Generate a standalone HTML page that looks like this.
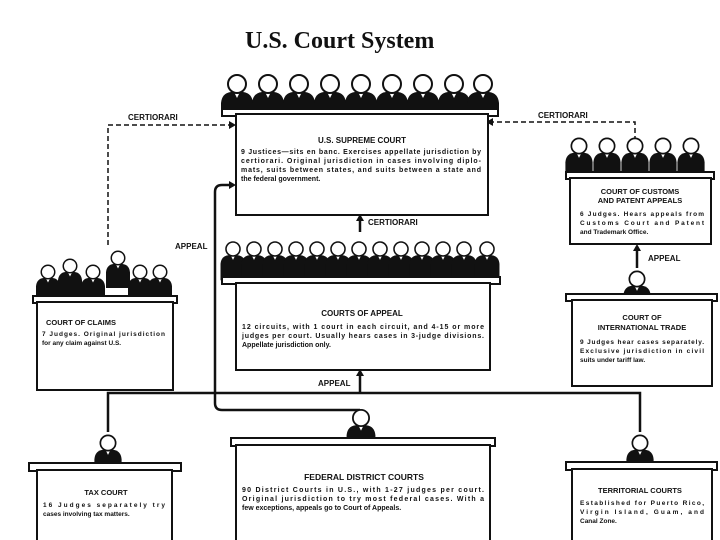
<!DOCTYPE html>
<html><head><meta charset="utf-8"><style>
html,body{margin:0;padding:0;background:#fff;}
svg{display:block}
text{font-family:"Liberation Sans",sans-serif;font-weight:bold;fill:#111}
</style></head><body>
<svg width="720" height="540" viewBox="0 0 720 540" xmlns="http://www.w3.org/2000/svg">
<defs>
<g id="s">
<path d="M-16,29 L-16,19 Q-15,9 -6,8 L6,8 Q15,9 16,19 L16,29 Z" fill="#111"/>
<path d="M-3,8 L0,14 L3,8 Z" fill="#fff"/>
<circle cx="0" cy="0" r="9" fill="#fff" stroke="#111" stroke-width="2"/>
</g>
<g id="j">
<path d="M-16,40 L-16,19 Q-15,9 -6,8 L6,8 Q15,9 16,19 L16,40 Z" fill="#111"/>
<path d="M-3,8 L0,14 L3,8 Z" fill="#fff"/>
<circle cx="0" cy="0" r="9" fill="#fff" stroke="#111" stroke-width="2"/>
</g>
</defs>
<text x="245" y="48" style="font-family:'Liberation Serif',serif;font-size:24px">U.S. Court System</text>

<g fill="none" stroke="#111" stroke-width="1.5" stroke-dasharray="5,3">
<path d="M108,245 L108,125 L233,125"/>
<path d="M489,122 L635,122 L635,138"/>
</g>
<g fill="none" stroke="#111" stroke-width="2.5">
<path d="M360,232 L360,218"/>
<path d="M108,432 L108,393 L640,393 L640,432"/>
<path d="M360,393 L360,373"/>
<path d="M360,410 L222,410 Q215,410 215,403 L215,192 Q215,185 222,185 L233,185"/>
<path d="M637,268 L637,248"/>
</g>
<g fill="#111">
<path d="M360,214 l-4,7 h8z"/><path d="M360,369 l-4,7 h8z"/><path d="M637,244 l-4,7 h8z"/>
<path d="M236,185 l-7,-4 v8z"/><path d="M236,125 l-7,-4 v8z"/><path d="M486,122 l7,-4 v8z"/>
</g>
<text x="128" y="120" font-size="8">CERTIORARI</text>
<text x="538" y="118" font-size="8">CERTIORARI</text>
<text x="368" y="225" font-size="8">CERTIORARI</text>
<text x="175" y="249" font-size="8">APPEAL</text>
<text x="318" y="386" font-size="8">APPEAL</text>
<text x="648" y="261" font-size="8">APPEAL</text>

<!-- Supreme -->
<g>
<use href="#s" x="237" y="84"/><use href="#s" x="268" y="84"/><use href="#s" x="299" y="84"/><use href="#s" x="330" y="84"/><use href="#s" x="361" y="84"/><use href="#s" x="392" y="84"/><use href="#s" x="423" y="84"/><use href="#s" x="454" y="84"/><use href="#s" x="483" y="84"/>
</g>
<rect x="222" y="109" width="276" height="7" fill="#fff" stroke="#111" stroke-width="2"/>
<rect x="236" y="114" width="252" height="101" fill="#fff" stroke="#111" stroke-width="2"/>
<text x="362" y="143" font-size="8" text-anchor="middle">U.S. SUPREME COURT</text>
<g font-size="7" lengthAdjust="spacing"><text x="241" y="154" textLength="240">9 Justices—sits en banc. Exercises appellate jurisdiction by</text><text x="241" y="163" textLength="240">certiorari. Original jurisdiction in cases involving diplo-</text><text x="241" y="172" textLength="240">mats, suits between states, and suits between a state and</text><text x="241" y="181">the federal government.</text></g>

<!-- Appeals -->
<g>
<g transform="translate(233,249) scale(.78)"><use href="#j"/></g><g transform="translate(254,249) scale(.78)"><use href="#j"/></g><g transform="translate(275,249) scale(.78)"><use href="#j"/></g><g transform="translate(296,249) scale(.78)"><use href="#j"/></g><g transform="translate(317,249) scale(.78)"><use href="#j"/></g><g transform="translate(338,249) scale(.78)"><use href="#j"/></g><g transform="translate(359,249) scale(.78)"><use href="#j"/></g><g transform="translate(380,249) scale(.78)"><use href="#j"/></g><g transform="translate(401,249) scale(.78)"><use href="#j"/></g><g transform="translate(422,249) scale(.78)"><use href="#j"/></g><g transform="translate(443,249) scale(.78)"><use href="#j"/></g><g transform="translate(464,249) scale(.78)"><use href="#j"/></g><g transform="translate(487,249) scale(.78)"><use href="#j"/></g>
</g>
<rect x="222" y="277" width="278" height="7" fill="#fff" stroke="#111" stroke-width="2"/>
<rect x="236" y="283" width="254" height="87" fill="#fff" stroke="#111" stroke-width="2"/>
<text x="362" y="316" font-size="8" text-anchor="middle">COURTS OF APPEAL</text>
<g font-size="7" lengthAdjust="spacing"><text x="242" y="329" textLength="242">12 circuits, with 1 court in each circuit, and 4-15 or more</text><text x="242" y="338" textLength="242">judges per court. Usually hears cases in 3-judge divisions.</text><text x="242" y="347">Appellate jurisdiction only.</text></g>

<!-- Claims -->
<g><g transform="translate(48,272) scale(.75)"><use href="#j"/></g><g transform="translate(70,266) scale(.75)"><use href="#j"/></g><g transform="translate(93,272) scale(.75)"><use href="#j"/></g><g transform="translate(118,258) scale(.75)"><use href="#j"/></g><g transform="translate(140,272) scale(.75)"><use href="#j"/></g><g transform="translate(160,272) scale(.75)"><use href="#j"/></g></g>
<rect x="33" y="296" width="144" height="7" fill="#fff" stroke="#111" stroke-width="2"/>
<rect x="37" y="302" width="136" height="88" fill="#fff" stroke="#111" stroke-width="2"/>
<text x="46" y="325" font-size="7.5">COURT OF CLAIMS</text>
<g font-size="6.5" lengthAdjust="spacing"><text x="42" y="336" textLength="123">7 Judges. Original jurisdiction</text><text x="42" y="345">for any claim against U.S.</text></g>

<!-- Customs -->
<g><g transform="translate(579,146) scale(.85)"><use href="#j"/></g><g transform="translate(607,146) scale(.85)"><use href="#j"/></g><g transform="translate(635,146) scale(.85)"><use href="#j"/></g><g transform="translate(663,146) scale(.85)"><use href="#j"/></g><g transform="translate(691,146) scale(.85)"><use href="#j"/></g></g>
<rect x="566" y="172" width="148" height="7" fill="#fff" stroke="#111" stroke-width="2"/>
<rect x="570" y="178" width="141" height="66" fill="#fff" stroke="#111" stroke-width="2"/>
<text x="640" y="194" font-size="7.5" text-anchor="middle">COURT OF CUSTOMS</text>
<text x="640" y="203" font-size="7.5" text-anchor="middle">AND PATENT APPEALS</text>
<g font-size="6.5" lengthAdjust="spacing"><text x="580" y="216" textLength="124">6 Judges. Hears appeals from</text><text x="580" y="225" textLength="124">Customs Court and Patent</text><text x="580" y="234">and Trademark Office.</text></g>

<!-- Intl trade -->
<g transform="translate(637,279) scale(.85)"><use href="#j"/></g>
<rect x="566" y="294" width="151" height="7" fill="#fff" stroke="#111" stroke-width="2"/>
<rect x="572" y="300" width="140" height="86" fill="#fff" stroke="#111" stroke-width="2"/>
<text x="642" y="320" font-size="7.5" text-anchor="middle">COURT OF</text>
<text x="642" y="330" font-size="7.5" text-anchor="middle">INTERNATIONAL TRADE</text>
<g font-size="6.5" lengthAdjust="spacing"><text x="580" y="344" textLength="124">9 Judges hear cases separately.</text><text x="580" y="353" textLength="124">Exclusive jurisdiction in civil</text><text x="580" y="362">suits under tariff law.</text></g>

<!-- Federal district -->
<g transform="translate(361,418) scale(.9)"><use href="#j"/></g>
<rect x="231" y="438" width="264" height="8" fill="#fff" stroke="#111" stroke-width="2"/>
<rect x="236" y="445" width="254" height="100" fill="#fff" stroke="#111" stroke-width="2"/>
<text x="364" y="480" font-size="8.5" text-anchor="middle">FEDERAL DISTRICT COURTS</text>
<g font-size="7" lengthAdjust="spacing"><text x="242" y="492" textLength="242">90 District Courts in U.S., with 1-27 judges per court.</text><text x="242" y="501" textLength="242">Original jurisdiction to try most federal cases. With a</text><text x="242" y="510">few exceptions, appeals go to Court of Appeals.</text></g>

<!-- Tax -->
<g transform="translate(108,443) scale(.85)"><use href="#j"/></g>
<rect x="29" y="463" width="152" height="8" fill="#fff" stroke="#111" stroke-width="2"/>
<rect x="37" y="470" width="135" height="75" fill="#fff" stroke="#111" stroke-width="2"/>
<text x="106" y="495" font-size="7.5" text-anchor="middle">TAX COURT</text>
<g font-size="6.5" lengthAdjust="spacing"><text x="43" y="507" textLength="122">16 Judges separately try</text><text x="43" y="516">cases involving tax matters.</text></g>

<!-- Territorial -->
<g transform="translate(640,443) scale(.85)"><use href="#j"/></g>
<rect x="566" y="462" width="151" height="8" fill="#fff" stroke="#111" stroke-width="2"/>
<rect x="572" y="469" width="140" height="76" fill="#fff" stroke="#111" stroke-width="2"/>
<text x="640" y="493" font-size="7.5" text-anchor="middle">TERRITORIAL COURTS</text>
<g font-size="6.5" lengthAdjust="spacing"><text x="580" y="505" textLength="124">Established for Puerto Rico,</text><text x="580" y="514" textLength="124">Virgin Island, Guam, and</text><text x="580" y="523">Canal Zone.</text></g>
</svg>
</body></html>
